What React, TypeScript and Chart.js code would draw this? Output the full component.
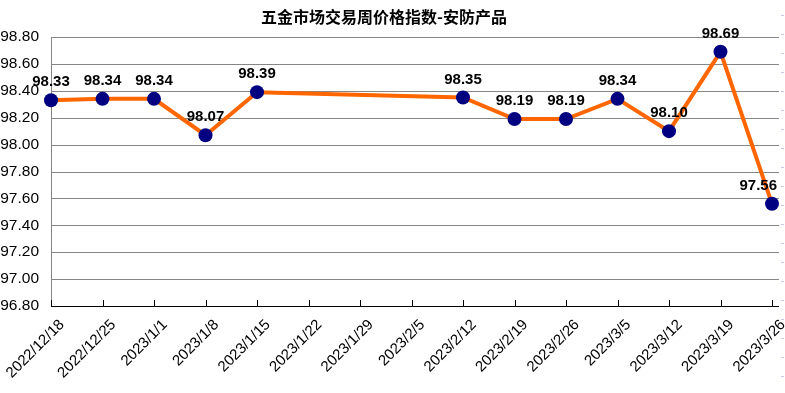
import React, { useEffect, useRef } from "react";
import { Chart, registerables } from "chart.js";

Chart.register(...registerables);

const TITLE = "五金市场交易周价格指数-安防产品";
const categories = [
  "2022/12/18", "2022/12/25", "2023/1/1", "2023/1/8", "2023/1/15", "2023/1/22",
  "2023/1/29", "2023/2/5", "2023/2/12", "2023/2/19", "2023/2/26", "2023/3/5",
  "2023/3/12", "2023/3/19", "2023/3/26",
];
const values: (number | null)[] = [
  98.33, 98.34, 98.34, 98.07, 98.39, null, null, null, 98.35, 98.19, 98.19, 98.34,
  98.1, 98.69, 97.56,
];
const yMin = 96.8;
const yMax = 98.8;
const yStep = 0.2;

const NUM_FONT = "'Liberation Sans', Arial, sans-serif";

const decorPlugin = {
  id: "decor",
  beforeDatasetsDraw(chart: any) {
    const { ctx, chartArea, scales } = chart;
    const y = scales.y;
    const x = scales.x;
    const ext = 7;
    ctx.save();
    ctx.strokeStyle = "#868686";
    ctx.lineWidth = 1;
    y.ticks.forEach((t: any) => {
      const py = Math.round(y.getPixelForValue(t.value)) + 0.5;
      if (Math.abs(t.value - yMin) < 1e-6) return;
      ctx.beginPath();
      ctx.moveTo(chartArea.left, py);
      ctx.lineTo(chartArea.right + ext, py);
      ctx.stroke();
    });
    const lx = Math.round(chartArea.left) + 0.5;
    ctx.beginPath();
    ctx.moveTo(lx, chartArea.top);
    ctx.lineTo(lx, chartArea.bottom);
    ctx.stroke();
    ctx.strokeStyle = "#000000";
    const by = Math.round(chartArea.bottom) + 0.5;
    ctx.beginPath();
    ctx.moveTo(chartArea.left, by);
    ctx.lineTo(chartArea.right + ext, by);
    ctx.stroke();
    categories.forEach((_, i) => {
      const px = Math.round(x.getPixelForValue(i)) + 0.5;
      ctx.beginPath();
      ctx.moveTo(px, chartArea.bottom - 6);
      ctx.lineTo(px, chartArea.bottom);
      ctx.stroke();
    });
    ctx.fillStyle = "#c8c8e0";
    for (let yy = 15; yy < chart.height; yy += 19) {
      ctx.fillRect(781, yy, 3, 1);
    }
    ctx.fillStyle = "#000";
    ctx.font = "bold 16px 'Noto Sans CJK SC', sans-serif";
    ctx.textAlign = "center";
    ctx.textBaseline = "middle";
    ctx.fillText(TITLE, 384, 17);
    ctx.restore();
  },
  afterDatasetsDraw(chart: any) {
    const { ctx, chartArea } = chart;
    const meta = chart.getDatasetMeta(0);
    ctx.save();
    ctx.font = `bold 15px ${NUM_FONT}`;
    ctx.fillStyle = "#000";
    ctx.textBaseline = "middle";
    ctx.textAlign = "center";
    meta.data.forEach((pt: any, i: number) => {
      const v = values[i];
      if (v == null) return;
      const txt = v.toFixed(2);
      const w = ctx.measureText(txt).width;
      let cx = pt.x;
      const maxRight = chartArea.right + 5;
      if (cx + w / 2 > maxRight) cx = maxRight - w / 2;
      ctx.fillText(txt, cx, pt.y - 18);
    });
    ctx.restore();
  },
};

export default function App() {
  const ref = useRef<HTMLCanvasElement>(null);
  useEffect(() => {
    if (!ref.current) return;
    const chart = new Chart(ref.current, {
      type: "line",
      data: {
        labels: categories,
        datasets: [
          {
            data: values,
            borderColor: "#FF6600",
            borderWidth: 4,
            pointRadius: 7,
            pointBackgroundColor: "#000080",
            pointBorderColor: "#000080",
            pointBorderWidth: 0,
            spanGaps: true,
            tension: 0,
          },
        ],
      },
      options: {
        responsive: false,
        animation: false,
        layout: { padding: { top: 37, right: 13, left: 0, bottom: 0 } },
        plugins: {
          legend: { display: false },
          title: { display: false },
          tooltip: { enabled: false },
        },
        scales: {
          x: {
            type: "category",
            offset: false,
            grid: { display: false, drawTicks: false },
            border: { display: false },
            ticks: {
              autoSkip: false,
              minRotation: 45,
              maxRotation: 45,
              padding: 10,
              labelOffset: 11,
              color: "#000",
              font: { size: 15, family: NUM_FONT },
            },
            afterFit(scale: any) {
              scale.height = 87;
              scale.paddingLeft = 0;
              scale.paddingRight = 0;
            },
          },
          y: {
            min: yMin,
            max: yMax,
            grid: { display: false, drawTicks: false },
            border: { display: false },
            ticks: {
              stepSize: yStep,
              padding: 12,
              color: "#000",
              font: { size: 15.5, family: NUM_FONT },
              callback: (v: any) => Number(v).toFixed(2),
            },
            afterFit(scale: any) {
              scale.width = 51;
              scale.paddingTop = 0;
              scale.paddingBottom = 0;
            },
          },
        },
      },
      plugins: [decorPlugin],
    });
    return () => chart.destroy();
  }, []);
  return (
    <div style={{ position: "fixed", left: 0, top: 0, width: 785, height: 393, background: "#fff" }}>
      <canvas ref={ref} width={785} height={393} />
    </div>
  );
}
